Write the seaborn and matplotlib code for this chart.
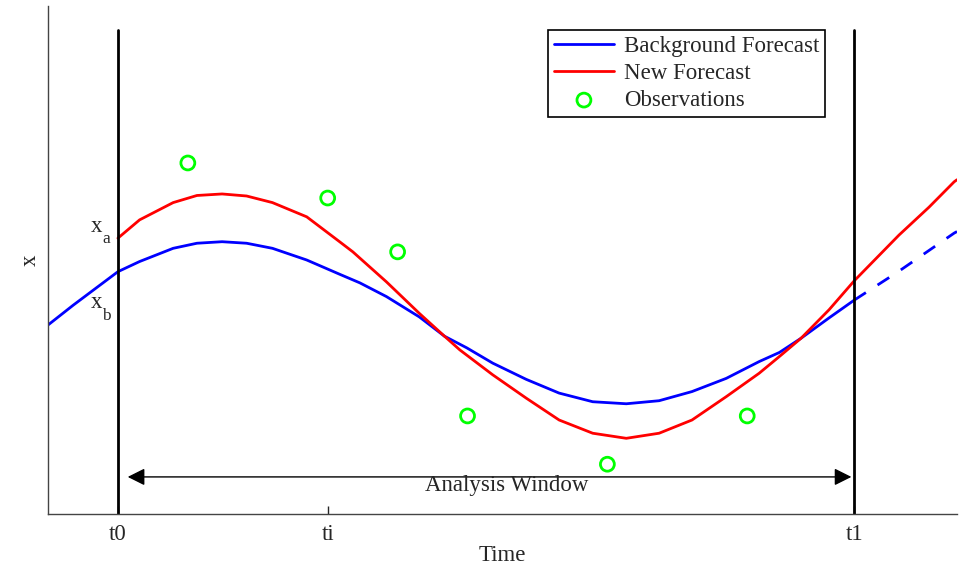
import numpy as np
import pandas as pd
import matplotlib
matplotlib.use("Agg")
import matplotlib.pyplot as plt
import seaborn as sns

# ---- data (time units: t0=1, ti=4, t1=11.53; arbitrary state units) ----
bg_t = [0.00, 0.36, 1.00, 1.31, 1.79, 2.13, 2.49, 2.84, 3.21, 3.70, 4.17, 4.46,
        4.84, 5.31, 5.67, 5.99, 6.36, 6.84, 7.31, 7.79, 8.27, 8.74, 9.21, 9.70,
        10.17, 10.46, 10.77, 11.17, 11.53]
bg_x = [3.72, 4.11, 4.77, 4.97, 5.23, 5.33, 5.36, 5.33, 5.23, 5.00, 4.72, 4.55,
        4.28, 3.88, 3.50, 3.27, 2.97, 2.65, 2.38, 2.21, 2.17, 2.23, 2.41, 2.67,
        3.00, 3.18, 3.46, 3.86, 4.21]
bg_ext_t = [11.53, 12.17, 12.96, 13.0]
bg_ext_x = [4.21, 4.78, 5.53, 5.56]

new_t = [1.00, 1.31, 1.79, 2.13, 2.49, 2.84, 3.21, 3.70, 4.17, 4.36, 4.84, 5.31,
         5.67, 5.89, 6.36, 6.84, 7.31, 7.79, 8.27, 8.74, 9.21, 9.70, 10.17, 10.46,
         10.77, 11.17, 11.53, 12.17, 12.60, 12.96, 13.0]
new_x = [5.43, 5.79, 6.13, 6.27, 6.30, 6.26, 6.13, 5.85, 5.36, 5.16, 4.57, 3.95,
         3.50, 3.23, 2.74, 2.28, 1.85, 1.59, 1.49, 1.59, 1.85, 2.31, 2.77, 3.10,
         3.46, 4.02, 4.59, 5.49, 6.04, 6.54, 6.58]

obs_t = [2, 4, 5, 6, 8, 10]
obs_x = [6.91, 6.22, 5.16, 1.93, 0.98, 1.93]

tick_pos = [1, 4, 11.53]
tick_labels = ["t0", "ti", "t1"]

sns.set_style("ticks")
plt.rcParams['font.family'] = ['Liberation Serif', 'DejaVu Serif']
FS = 16.5

fig = plt.figure(figsize=(9.63, 5.66), dpi=100)
ax = fig.add_axes([48/963, 52/566, 909/963, 508/566])

bg = pd.DataFrame({"t": bg_t, "x": bg_x})
bge = pd.DataFrame({"t": bg_ext_t, "x": bg_ext_x})
nf = pd.DataFrame({"t": new_t, "x": new_x})
ob = pd.DataFrame({"t": obs_t, "x": obs_x})

sns.lineplot(data=bg, x="t", y="x", ax=ax, color="#0000ff", lw=2, sort=False,
             label="Background Forecast")
sns.lineplot(data=bge, x="t", y="x", ax=ax, color="#0000ff", lw=2, sort=False,
             linestyle=(0, (5, 5)), label="_nolegend_")
sns.lineplot(data=nf, x="t", y="x", ax=ax, color="#ff0000", lw=2, sort=False,
             label="New Forecast")
sns.scatterplot(data=ob, x="t", y="x", ax=ax, marker="o", s=100,
                facecolors="none", edgecolor="#00ff00", linewidth=2,
                label="Observations", zorder=5)

# window boundaries
top = 9.53
ax.plot([tick_pos[0], tick_pos[0]], [0, top], color="black", lw=2)
ax.plot([tick_pos[2], tick_pos[2]], [0, top], color="black", lw=2)

# analysis window arrow
ax.annotate("", xy=(1.14, 0.73), xytext=(11.49, 0.73),
            arrowprops=dict(arrowstyle="<|-|>", color="black", lw=1,
                            mutation_scale=26, shrinkA=0, shrinkB=0))
ax.text(6.56, 0.57, "Analysis Window", ha="center", va="center", fontsize=FS)

# xa, xb labels
ax.text(0.70, 5.65, "x", ha="center", va="center", fontsize=FS)
ax.text(0.84, 5.41, "a", ha="center", va="center", fontsize=FS*0.75)
ax.text(0.70, 4.16, "x", ha="center", va="center", fontsize=FS)
ax.text(0.84, 3.90, "b", ha="center", va="center", fontsize=FS*0.75)

ax.set_xlim(0, 13)
ax.set_ylim(0, 10)
ax.set_xticks(tick_pos)
ax.set_xticklabels(tick_labels, fontsize=FS)
ax.set_yticks([])
ax.tick_params(axis="x", direction="in", length=6, width=1, pad=7)
ax.set_xlabel("Time", fontsize=FS, labelpad=0)
ax.set_ylabel("x", fontsize=FS, labelpad=5)
for s in ["top", "right"]:
    ax.spines[s].set_visible(False)
for s in ["left", "bottom"]:
    ax.spines[s].set_color("#444444")
    ax.spines[s].set_linewidth(1)

leg = ax.legend(loc="upper left", bbox_to_anchor=(0.5505, 0.953), fontsize=FS,
                frameon=True, fancybox=False, edgecolor="black",
                framealpha=1, labelspacing=0.27, handlelength=2.6,
                handletextpad=0.45, borderpad=0.25, borderaxespad=0)
leg.get_frame().set_linewidth(1.2)

fig.savefig("out.png", dpi=100)
